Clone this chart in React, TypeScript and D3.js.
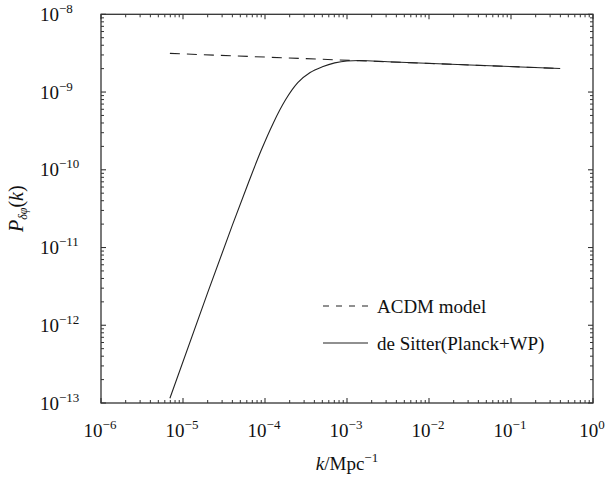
import React from "react";
import * as d3 from "d3";

const xDecades = [1e-6, 1e-5, 1e-4, 1e-3, 1e-2, 1e-1, 1];
const xExps = ["−6", "−5", "−4", "−3", "−2", "−1", "0"];
const yDecades = [1e-13, 1e-12, 1e-11, 1e-10, 1e-9, 1e-8];
const yExps = ["−13", "−12", "−11", "−10", "−9", "−8"];

const lcdmK = [6.92e-6, 0.398];
const lcdmP = [3.14e-9, 2.01e-9];

const deSitterK = [6.92e-6, 2.0e-5, 3.98e-5, 6.31e-5, 8.91e-5, 1.26e-4, 1.78e-4, 2.51e-4, 3.55e-4, 5.01e-4, 7.08e-4, 1.0e-3, 1.41e-3, 3.16e-3, 3.16e-2, 0.398];
const deSitterP = [1.15e-13, 2.63e-12, 1.91e-11, 6.92e-11, 1.74e-10, 3.98e-10, 7.94e-10, 1.32e-9, 1.78e-9, 2.11e-9, 2.37e-9, 2.51e-9, 2.54e-9, 2.45e-9, 2.23e-9, 2.01e-9];

const seriesNames = ["ACDM model", "de Sitter(Planck+WP)"];

const W = 610, H = 481;
const L = 101, R = 593, T = 14.3, B = 403;
const FONT = "'Liberation Serif', 'Times New Roman', serif";

export default function App() {
  const x = d3.scaleLog().domain([1e-6, 1]).range([L, R]);
  const y = d3.scaleLog().domain([1e-13, 1e-8]).range([B, T]);
  const line = d3
    .line<[number, number]>()
    .x((d) => x(d[0]))
    .y((d) => y(d[1]))
    .curve(d3.curveMonotoneX);

  const lcdm = lcdmK.map((k, i) => [k, lcdmP[i]] as [number, number]);
  const ds = deSitterK.map((k, i) => [k, deSitterP[i]] as [number, number]);

  const minorX: number[] = [];
  xDecades.slice(0, -1).forEach((d) => {
    for (let m = 2; m <= 9; m++) minorX.push(d * m);
  });
  const minorY: number[] = [];
  yDecades.slice(0, -1).forEach((d) => {
    for (let m = 2; m <= 9; m++) minorY.push(d * m);
  });

  const axisColor = "#333";
  const major = 5, minor = 3;

  return (
    <svg width={W} height={H} style={{ position: "absolute", left: 0, top: 0, background: "#fff" }} fontFamily={FONT}>
      <rect x={0} y={0} width={W} height={H} fill="#fff" />
      {/* curves */}
      <path d={line(lcdm) || ""} fill="none" stroke="#222" strokeWidth={1.1} strokeDasharray="10,7" />
      <path d={line(ds) || ""} fill="none" stroke="#222" strokeWidth={1.1} />

      {/* frame */}
      <rect x={L} y={T} width={R - L} height={B - T} fill="none" stroke={axisColor} strokeWidth={1.3} />

      {/* x ticks */}
      {xDecades.map((d, i) => (
        <g key={"xM" + i}>
          <line x1={x(d)} x2={x(d)} y1={B} y2={B - major} stroke={axisColor} strokeWidth={1.1} />
          <line x1={x(d)} x2={x(d)} y1={T} y2={T + major} stroke={axisColor} strokeWidth={1.1} />
          <text x={x(d) - 1} y={437} textAnchor="middle" fontSize={19} fill="#111">
            10<tspan dy={-8} fontSize={13}>{xExps[i]}</tspan>
          </text>
        </g>
      ))}
      {minorX.map((d, i) => (
        <g key={"xm" + i}>
          <line x1={x(d)} x2={x(d)} y1={B} y2={B - minor} stroke={axisColor} strokeWidth={1} />
          <line x1={x(d)} x2={x(d)} y1={T} y2={T + minor} stroke={axisColor} strokeWidth={1} />
        </g>
      ))}

      {/* y ticks */}
      {yDecades.map((d, i) => (
        <g key={"yM" + i}>
          <line x1={L} x2={L + major} y1={y(d)} y2={y(d)} stroke={axisColor} strokeWidth={1.1} />
          <line x1={R} x2={R - major} y1={y(d)} y2={y(d)} stroke={axisColor} strokeWidth={1.1} />
          <text x={40} y={y(d) + 6.5} textAnchor="start" fontSize={19} fill="#111">
            10<tspan dy={-8} fontSize={13}>{yExps[i]}</tspan>
          </text>
        </g>
      ))}
      {minorY.map((d, i) => (
        <g key={"ym" + i}>
          <line x1={L} x2={L + minor} y1={y(d)} y2={y(d)} stroke={axisColor} strokeWidth={1} />
          <line x1={R} x2={R - minor} y1={y(d)} y2={y(d)} stroke={axisColor} strokeWidth={1} />
        </g>
      ))}

      {/* axis labels */}
      <text x={(L + R) / 2} y={470} textAnchor="middle" fontSize={19} fill="#111">
        <tspan fontStyle="italic">k</tspan>/Mpc<tspan dy={-8} fontSize={13}>−1</tspan>
      </text>
      <text transform={`translate(23,${(T + B) / 2}) rotate(-90)`} textAnchor="middle" fontSize={20} fill="#111">
        <tspan fontStyle="italic">P</tspan>
        <tspan dy={4} fontSize={12} fontStyle="italic">δφ</tspan>
        <tspan dy={-4}>(</tspan>
        <tspan fontStyle="italic">k</tspan>
        <tspan>)</tspan>
      </text>

      {/* legend */}
      <line x1={323} x2={368} y1={306} y2={306} stroke="#222" strokeWidth={1.1} strokeDasharray="6,7" />
      <text x={377} y={313.3} fontSize={19} fill="#111">{seriesNames[0]}</text>
      <line x1={323} x2={368} y1={343} y2={343} stroke="#222" strokeWidth={1.1} />
      <text x={377} y={350.3} fontSize={19} fill="#111">{seriesNames[1]}</text>
    </svg>
  );
}
